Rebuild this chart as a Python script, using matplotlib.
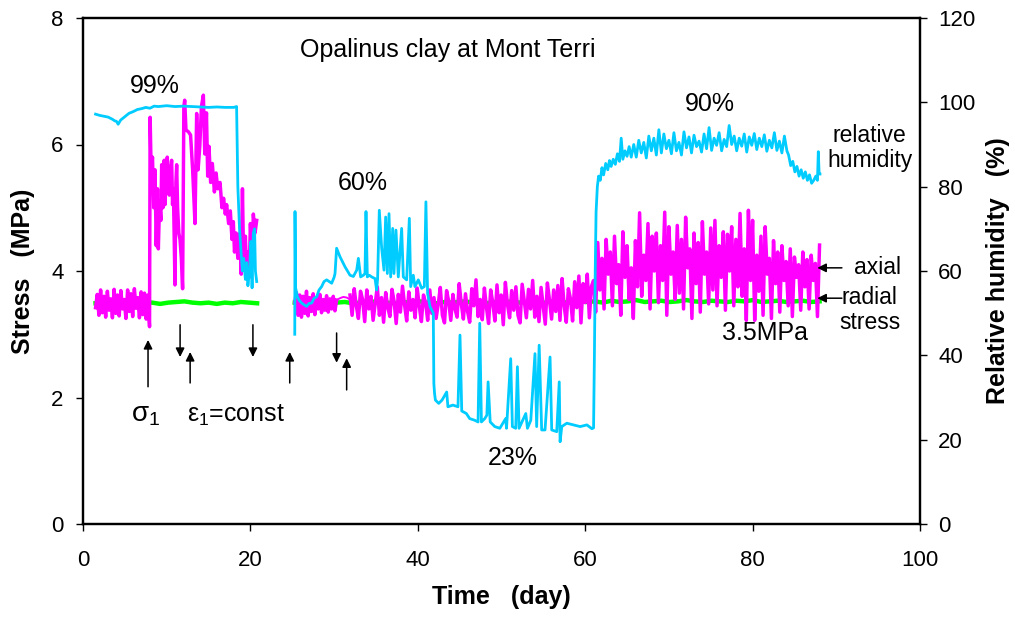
import numpy as np
import matplotlib
matplotlib.use("Agg")
import matplotlib.pyplot as plt

plt.rcParams['font.family'] = ['Liberation Sans', 'DejaVu Sans']
plt.rcParams['mathtext.fontset'] = 'custom'
plt.rcParams['mathtext.rm'] = 'Liberation Sans'
plt.rcParams['mathtext.it'] = 'Liberation Sans:italic'
plt.rcParams['mathtext.bf'] = 'Liberation Sans:bold'

# ---------------- data ----------------
# Axial stress (MPa)
axial_a1_range = (1.5, 7.75)
axial_a1 = [3.42, 3.63, 3.30, 3.70, 3.34, 3.60, 3.27, 3.68, 3.38, 3.56, 3.26, 3.71, 3.33, 3.62, 3.29, 3.69,
            3.40, 3.55, 3.25, 3.70, 3.36, 3.64, 3.28, 3.72, 3.41, 3.58, 3.26, 3.67, 3.31, 3.65, 3.24, 3.62]

axial_a2_t = [7.81, 7.95, 8.02, 8.15, 8.3, 8.45, 8.6, 8.75, 8.9, 9.0, 9.15, 9.3, 9.4, 9.55, 9.7, 9.8, 9.95,
              10.07, 10.2, 10.31, 10.45, 10.59, 10.7, 10.8, 10.99, 11.1, 11.19, 11.3, 11.45, 11.59, 11.75,
              11.9, 12.05, 12.15, 12.3, 12.6, 12.85, 13.1, 13.38, 13.58, 13.75, 13.95, 14.15, 14.38, 14.55,
              14.75, 14.9, 15.05, 15.25, 15.45, 15.7, 15.9, 16.1, 16.37, 16.6, 16.8, 17.0, 17.16, 17.4, 17.6,
              17.8, 17.96, 18.1, 18.3, 18.5, 18.76, 18.9, 19.05, 19.2, 19.4, 19.55, 19.7, 19.85, 20.0, 20.2,
              20.35, 20.55, 20.75]
axial_a2 = [3.45, 3.12, 6.43, 5.5, 5.8, 5.0, 5.6, 4.4, 5.3, 4.35, 5.1, 4.8, 5.68, 5.0, 5.75, 5.05, 5.55,
            5.8, 5.25, 5.2, 5.6, 5.75, 5.05, 5.3, 3.78, 5.4, 5.68, 5.0, 4.6, 4.5, 4.2,
            3.72, 6.6, 6.7, 6.23, 6.2, 6.15, 5.6, 4.75, 6.49, 5.6, 5.97, 6.6, 6.78, 5.85,
            6.5, 5.5, 5.97, 5.4, 5.7, 5.25, 5.55, 5.3, 5.4, 5.0, 5.15, 4.9, 5.05, 4.75, 4.95,
            4.5, 4.78, 4.3, 4.6, 4.2, 4.6, 3.95, 5.3, 4.05, 4.55, 3.95, 4.3, 3.9, 4.75, 4.1,
            4.9, 4.6, 4.8]

axial_a3_range = (25.3, 30.3)
axial_a3 = [3.50, 3.66, 3.30, 3.62, 3.27, 3.60, 3.33, 3.68, 3.29, 3.58, 3.36, 3.64, 3.31, 3.57, 3.40, 3.63,
            3.34, 3.55, 3.38, 3.61, 3.35, 3.56, 3.40, 3.60, 3.37, 3.54]

axial_a4_t = [30.3, 30.7, 31.1, 31.5, 31.9]
axial_a4 = [3.54, 3.57, 3.59, 3.58, 3.55]

axial_a5_range = (31.9, 61.0)
axial_a5 = [3.62, 3.30, 3.72, 3.45, 3.25, 3.68, 3.55, 3.20, 3.70, 3.40,
            3.60, 3.22, 3.48, 3.75, 3.30, 3.58, 3.19, 3.66, 3.42, 3.28,
            3.71, 3.52, 3.17, 3.63, 3.35, 3.76, 3.46, 3.21, 3.67, 3.38,
            3.55, 3.26, 3.73, 3.44, 3.20, 3.62, 3.50, 3.22, 3.70, 3.33,
            3.58, 3.25, 3.47, 3.74, 3.30, 3.18, 3.69, 3.52, 3.22, 3.63,
            3.40, 3.27, 3.80, 3.48, 3.24, 3.64, 3.36, 3.19, 3.72, 3.45,
            3.86, 3.28, 3.55, 3.23, 3.73, 3.42, 3.17, 3.70, 3.50, 3.21,
            3.78, 3.34, 3.62, 3.15, 3.82, 3.47, 3.26, 3.69, 3.38, 3.75,
            3.30, 3.18, 3.79, 3.52, 3.26, 3.71, 3.40, 3.85, 3.27, 3.60,
            3.20, 3.74, 3.45, 3.16, 3.81, 3.54, 3.24, 3.70, 3.36, 3.77,
            3.22, 3.88, 3.45, 3.19, 3.72, 3.56, 3.21, 3.83, 3.42, 3.92,
            3.18, 3.80, 3.50, 3.95, 3.26, 3.76, 3.85]

axial_a6_range = (61.0, 88.0)
axial_a6 = [3.85, 3.35, 4.45, 3.70, 4.20, 3.40, 4.50, 3.95, 4.30, 3.45,
            4.55, 3.80, 4.10, 3.30, 4.62, 3.90, 4.40, 3.55, 4.05, 3.25,
            4.48, 3.75, 4.92, 3.60, 4.25, 3.85, 4.75, 3.40, 4.55, 4.00,
            4.60, 3.50, 4.40, 3.85, 4.93, 3.30, 4.70, 3.95, 4.30, 3.55,
            4.72, 3.65, 4.50, 3.40, 4.85, 4.05, 4.35, 3.25, 4.60, 3.80,
            4.45, 3.35, 4.78, 3.95, 4.30, 3.48, 4.68, 3.70, 4.80, 3.45,
            4.40, 3.90, 4.62, 3.38, 4.58, 4.00, 4.70, 3.45, 4.50, 3.75,
            4.91, 3.60, 4.35, 3.22, 4.96, 3.85, 4.80, 3.22, 4.25, 3.68,
            4.55, 3.30, 4.70, 3.95, 4.20, 3.25, 4.48, 3.80, 4.30, 3.35,
            4.40, 3.85, 4.15, 3.45, 4.35, 3.28, 4.22, 3.90, 4.10, 3.38,
            4.30, 3.75, 4.18, 3.40, 4.25, 3.85, 4.12, 3.28, 4.41]

# Radial stress (MPa)
radial_r1_range = (1.5, 20.8)
radial_r1 = [3.49, 3.50, 3.48, 3.51, 3.50, 3.49, 3.51, 3.50, 3.48, 3.50, 3.51, 3.52, 3.50, 3.49, 3.50,
             3.48, 3.50, 3.49, 3.51, 3.50, 3.49]
radial_r2_range = (25.3, 88.0)
radial_r2 = [3.50, 3.49, 3.51, 3.50, 3.52, 3.50, 3.51, 3.49, 3.50, 3.52,
             3.51, 3.50, 3.49, 3.51, 3.50, 3.52, 3.50, 3.49, 3.51, 3.50,
             3.52, 3.51, 3.50, 3.49, 3.51, 3.50, 3.52, 3.50, 3.51, 3.49,
             3.50, 3.52, 3.51, 3.50, 3.53, 3.51, 3.52, 3.50, 3.53, 3.51,
             3.52, 3.54, 3.51, 3.52, 3.53, 3.51, 3.52, 3.54, 3.52, 3.51,
             3.53, 3.52, 3.51, 3.53, 3.52, 3.54, 3.51, 3.52, 3.53, 3.51,
             3.52, 3.53, 3.51, 3.52]

# Relative humidity (%)
rh_h1_t = [1.5, 2.0, 2.5, 3.0, 3.5, 3.8, 4.0, 4.2, 4.5, 5.0, 5.5, 6.0, 6.5, 7.0, 7.5, 8.0, 8.5, 9, 10, 11,
           12, 13, 14, 15, 16, 17, 18.0, 18.35, 18.5, 18.7, 18.9, 19.05, 19.2, 19.4, 19.55, 19.7, 19.9,
           20.05, 20.2, 20.35, 20.5, 20.6, 20.75]
rh_h1 = [97.2, 96.9, 96.7, 96.5, 96.0, 95.6, 95.5, 94.8, 95.8, 96.6, 97.4, 97.8, 98.3, 98.5, 98.8, 98.6,
         99.1, 99.0, 99.2, 99.0, 99.1, 99.0, 98.9, 98.8, 98.9, 98.8, 98.8, 99.0, 80.0, 70.0, 64.0, 60.0,
         63.0, 58.0, 62.0, 56.5, 60.0, 67.0, 56.0, 69.0, 70.0, 60.0, 57.5]

rh_h2_t = [25.30, 25.33, 25.40, 25.61, 25.85, 26.13, 26.4, 26.72, 27.0, 27.32, 27.6, 27.92, 28.2, 28.51,
           28.8, 29.11, 29.4, 29.71, 30.0, 30.11, 30.30, 30.70, 31.30, 31.90, 32.30, 32.70, 32.90, 33.17,
           33.5, 33.69, 33.81, 33.97, 34.2, 34.49, 34.89, 35.08, 35.20, 35.40, 35.68, 35.96, 36.16, 36.36,
           36.56, 36.76, 37.0, 37.15, 37.39, 37.67, 38.07, 38.27, 38.67, 38.99, 39.15, 39.46, 39.66, 40.06,
           40.46, 40.78, 40.97, 41.17, 41.45, 41.65, 41.85, 41.92, 42.0, 42.1, 42.5, 42.9, 43.45, 43.6,
           44.2, 44.8, 45.04, 45.25, 45.8, 46.2, 46.8, 47.2, 47.4, 47.6, 48.0, 48.25, 48.4, 48.65, 49.2,
           49.8, 50.5, 50.6, 51.1, 51.3, 51.7, 51.9, 52.1, 52.9, 53.1, 53.5, 54.0, 54.2, 54.5, 54.8, 55.2,
           55.8, 56.0, 56.6, 56.9, 57.0, 57.2, 57.8, 58.6, 59.4, 60.2, 60.8, 61.0,
           61.1, 61.2, 61.3, 61.45, 61.6, 61.8, 62.0, 62.2, 62.45, 62.7, 62.9, 63.1, 63.35, 63.6, 63.85,
           64.1, 64.3, 64.5, 64.75, 65.0, 65.25, 65.5]
rh_h2 = [45.0, 74.1, 56.0, 53.9, 53.0, 52.4, 52.0, 51.6, 52.3, 52.4, 53.5, 53.9, 55.5, 56.3,
         57.5, 57.9, 57.5, 57.1, 58.5, 59.4, 65.4, 63.4, 61.0, 59.0, 58.7, 60.2, 63.0, 58.6,
         59.0, 59.4, 74.1, 58.6, 59.0, 58.6, 58.2, 55.5, 58.2, 74.4, 65.5, 60.2, 72.8, 59.4,
         73.6, 58.6, 70.1, 59.4, 69.7, 58.6, 70.1, 58.6, 57.9, 72.5, 56.3, 59.0, 56.3, 57.9,
         55.9, 56.3, 76.4, 54.7, 51.6, 50.8, 50.0, 33.3, 31.0, 29.4, 28.6, 29.4, 31.3, 27.8,
         28.2, 27.8, 44.8, 26.8, 26.2, 25.0, 24.6, 24.2, 47.6, 24.2, 25.0, 25.8, 33.7, 24.2, 23.1,
         22.7, 25.0, 22.7, 39.2, 23.1, 22.7, 37.3, 22.7, 26.2, 22.7, 24.6, 40.4, 23.1, 42.4, 22.3, 22.3,
         39.6, 22.3, 21.9, 33.7, 19.5, 23.1, 23.9, 23.5, 23.1, 23.5, 22.6, 22.8,
         40.0, 60.0, 74.0, 80.0, 82.5, 81.5, 84.5, 82.8, 85.5, 84.0, 86.2, 84.8, 86.5, 85.3, 87.8,
         86.0, 91.5, 86.5, 88.5, 87.2, 89.5, 87.0]

rh_h3_range = (65.8, 83.8)
rh_h3 = [90.0, 87.0, 91.0, 88.0, 90.5, 86.8, 92.0, 88.5, 91.5, 87.5,
         93.5, 88.0, 92.5, 89.0, 91.0, 87.8, 92.8, 88.5, 90.5, 87.5,
         93.0, 89.2, 91.8, 88.0, 92.2, 89.5, 90.8, 88.2, 92.5, 89.0,
         94.0, 88.6, 91.5, 89.8, 92.8, 88.5, 91.2, 89.5, 94.5, 90.0,
         92.0, 88.5, 91.5, 89.6, 92.5, 88.2, 91.8, 89.8, 92.6, 88.8,
         91.5, 89.5, 92.3, 88.4, 91.0, 89.2, 92.8, 88.6, 90.8, 88.0,
         92.0]
rh_h4_t = [84.1, 84.3, 84.55, 84.8, 85.05, 85.3, 85.55, 85.8, 86.05, 86.3, 86.55, 86.8, 87.05, 87.3,
           87.55, 87.75, 87.85, 87.95, 88.05]
rh_h4 = [88.5, 87.5, 85.0, 86.0, 83.5, 84.8, 82.5, 84.0, 82.0, 83.5, 81.5, 82.8, 80.8, 81.5,
         82.5, 81.5, 88.3, 83.0, 83.0]

# annotation arrows (day, tail stress, tip stress)
arrow_days = [7.77, 11.6, 12.8, 20.3, 24.7, 30.3, 31.5]
arrow_tail = [2.17, 3.15, 2.23, 3.15, 2.23, 3.02, 2.12]
arrow_tip = [2.91, 2.64, 2.72, 2.64, 2.72, 2.55, 2.62]

# ---------------- figure ----------------
MAG = '#FF00FF'
CYAN = '#00CCFF'
GREEN = '#00FF00'

fig = plt.figure(figsize=(10.15, 6.19), dpi=100)
ax = fig.add_axes([83 / 1015, 1 - 524 / 619, 837 / 1015, 506 / 619])
ax2 = ax.twinx()


def seg(rng, vals):
    return np.linspace(rng[0], rng[1], len(vals)), np.array(vals)


# radial (green) beneath
for rng, vals in [(radial_r1_range, radial_r1), (radial_r2_range, radial_r2)]:
    t, v = seg(rng, vals)
    ax.plot(t, v, color=GREEN, lw=3.2, solid_joinstyle='round', zorder=2)

# axial (magenta)
LWM = 2.5
t1, v1 = seg(axial_a1_range, axial_a1)
ax.plot(np.concatenate([t1, axial_a2_t]), np.concatenate([v1, axial_a2]), color=MAG, lw=LWM, zorder=3)
t3, v3 = seg(axial_a3_range, axial_a3)
t5, v5 = seg(axial_a5_range, axial_a5)
t6, v6 = seg(axial_a6_range, axial_a6)
ax.plot(t3, v3, color=MAG, lw=LWM, zorder=3)
ax.plot(axial_a4_t, axial_a4, color=MAG, lw=1.4, zorder=3)
ax.plot(np.concatenate([t5, t6]), np.concatenate([v5, v6]), color=MAG, lw=LWM, zorder=3)

# humidity (cyan) on right axis
ax2.plot(rh_h1_t, rh_h1, color=CYAN, lw=2.0, zorder=4)
th3, vh3 = seg(rh_h3_range, rh_h3)
ax2.plot(np.concatenate([rh_h2_t, th3, rh_h4_t]), np.concatenate([rh_h2, vh3, rh_h4]),
         color=CYAN, lw=2.0, zorder=4)

# axes
ax.set_xlim(0, 100)
ax.set_ylim(0, 8)
ax2.set_ylim(0, 120)
ax.set_xticks([0, 20, 40, 60, 80, 100])
ax.set_yticks([0, 2, 4, 6, 8])
ax2.set_yticks([0, 20, 40, 60, 80, 100, 120])
ax.tick_params(axis='y', direction='out', length=5, width=1, labelsize=16, pad=9)
ax.tick_params(axis='x', direction='out', length=5, width=1, labelsize=16, pad=14)
ax2.tick_params(axis='y', direction='out', length=5, width=1, labelsize=16, pad=8)
for a in (ax, ax2):
    for s in a.spines.values():
        s.set_linewidth(1.6)
ax.set_xlabel('Time   (day)', fontsize=18, fontweight='bold', labelpad=10)
ax.set_ylabel('Stress   (MPa)', fontsize=18, fontweight='bold', labelpad=12)
ax2.set_ylabel('Relative humidity   (%)', fontsize=18, fontweight='bold', labelpad=8)

# texts (stress-axis data coordinates)
fb = 18
fs = 16.5
ax.text(43.6, 7.49, 'Opalinus clay at Mont Terri', fontsize=fb, ha='center', va='center')
ax.text(8.6, 6.92, '99%', fontsize=fb, ha='center', va='center')
ax.text(33.45, 5.39, '60%', fontsize=fb, ha='center', va='center')
ax.text(51.4, 1.04, '23%', fontsize=fb, ha='center', va='center')
ax.text(74.9, 6.64, '90%', fontsize=fb, ha='center', va='center')
ax.text(94.0, 5.94, 'relative\nhumidity', fontsize=fs, ha='center', va='center', linespacing=1.1)
ax.text(94.9, 4.05, 'axial', fontsize=fs, ha='center', va='center')
ax.text(94.0, 3.38, 'radial\nstress', fontsize=fs, ha='center', va='center', linespacing=1.1)
ax.text(81.5, 3.02, '3.5MPa', fontsize=fb, ha='center', va='center')
ax.text(7.5, 1.72, r'$\mathrm{σ}_{\mathrm{1}}$', fontsize=fb + 2, ha='center', va='center')
ax.text(18.3, 1.72, r'$\mathrm{ε}_{\mathrm{1}}$=const', fontsize=fb, ha='center', va='center')

for xa, ya in [(87.4, 4.05), (87.4, 3.57)]:
    ax.annotate('', xy=(xa, ya), xytext=(91.0, ya),
                arrowprops=dict(arrowstyle='-|>', color='black', lw=1.1, mutation_scale=13))

for d, tl, tp in zip(arrow_days, arrow_tail, arrow_tip):
    ax.annotate('', xy=(d, tp), xytext=(d, tl),
                arrowprops=dict(arrowstyle='-|>', color='black', lw=1.1, mutation_scale=13,
                                shrinkA=0, shrinkB=0))

fig.savefig('out.png', dpi=100)
